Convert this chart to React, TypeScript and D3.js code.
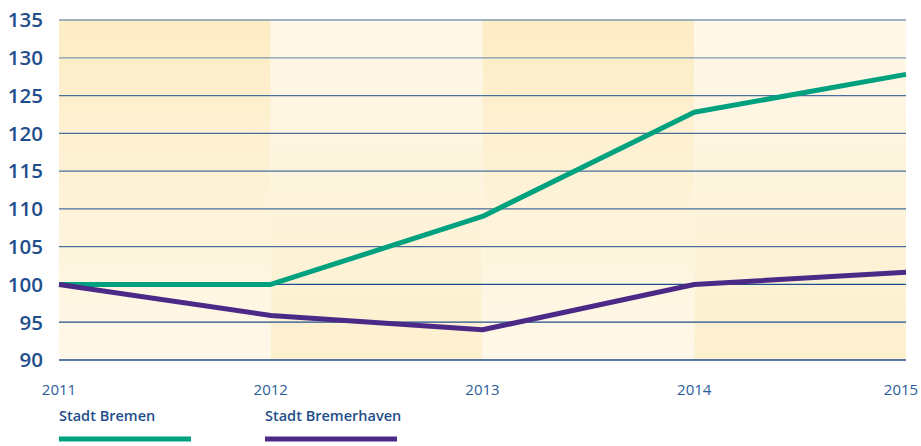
import React from "react";
import * as d3 from "d3";

const years = [2011, 2012, 2013, 2014, 2015];
const bremen = [100, 100, 109, 122.8, 127.8];
const bremerhaven = [100, 95.9, 94.0, 100, 101.6];
const yTicks = [90, 95, 100, 105, 110, 115, 120, 125, 130, 135];
const seriesNames = ["Stadt Bremen", "Stadt Bremerhaven"];

const W = 921;
const H = 446;
const M = { left: 59, right: 15, top: 20, bottom: 86 };
const GREEN = "#00A17F";
const PURPLE = "#4B2A87";
const BLUE = "#1F4E8C";

export default function App() {
  const x = d3.scaleLinear().domain([2011, 2015]).range([M.left, W - M.right]);
  const y = d3.scaleLinear().domain([90, 135]).range([H - M.bottom, M.top]);
  const line = d3
    .line<number>()
    .x((_, i) => x(years[i]))
    .y((d) => y(d));
  const gridColor = d3.interpolateRgb("#7F9AB2", "#1D4C88");
  const font = "'Open Sans', 'Noto Sans', sans-serif";

  return (
    <svg width={W} height={H} style={{ position: "absolute", left: 0, top: 0 }}>
      <defs>
        <linearGradient id="bandA" x1="0" y1="0" x2="0" y2="1">
          <stop offset="0%" stopColor="#FDEDC5" />
          <stop offset="100%" stopColor="#FFF8E9" />
        </linearGradient>
        <linearGradient id="bandB" x1="0" y1="0" x2="0" y2="1">
          <stop offset="0%" stopColor="#FFF8E9" />
          <stop offset="100%" stopColor="#FDF0CF" />
        </linearGradient>
      </defs>
      <rect width={W} height={H} fill="#fff" />
      {years.slice(0, -1).map((yr, i) => (
        <rect
          key={yr}
          x={x(yr)}
          y={y(135)}
          width={x(years[i + 1]) - x(yr)}
          height={y(90) - y(135)}
          fill={i % 2 === 0 ? "url(#bandA)" : "url(#bandB)"}
        />
      ))}
      {yTicks.map((t) => (
        <g key={t}>
          <line
            x1={x(2011)}
            x2={x(2015)}
            y1={y(t)}
            y2={y(t)}
            stroke={t >= 130 ? "#7F9AB2" : t >= 105 ? gridColor(0.55) : BLUE}
            strokeWidth={1.3}
          />
          <text
            x={43}
            y={y(t)}
            dy="0.36em"
            textAnchor="end"
            fontFamily={font}
            fontSize={20.5}
            fontWeight={600}
            fill={BLUE}
          >
            {t}
          </text>
        </g>
      ))}
      <path d={line(bremen) || ""} fill="none" stroke={GREEN} strokeWidth={5} strokeLinejoin="round" />
      <path d={line(bremerhaven) || ""} fill="none" stroke={PURPLE} strokeWidth={5} strokeLinejoin="round" />
      {years.map((yr) => (
        <text
          key={yr}
          x={Math.min(Math.max(x(yr), 53), 901)}
          y={395}
          textAnchor="middle"
          fontFamily={font}
          fontSize={15}
          fill="#2A5C99"
        >
          {yr}
        </text>
      ))}
      {seriesNames.map((name, i) => {
        const lx = i === 0 ? x(2011) : x(2011) + 206;
        return (
          <g key={name}>
            <text x={lx} y={421} fontFamily={font} fontSize={14.5} fontWeight={600} fill={BLUE}>
              {name}
            </text>
            <line x1={lx} x2={lx + 132} y1={439} y2={439} stroke={i === 0 ? GREEN : PURPLE} strokeWidth={5} />
          </g>
        );
      })}
    </svg>
  );
}
